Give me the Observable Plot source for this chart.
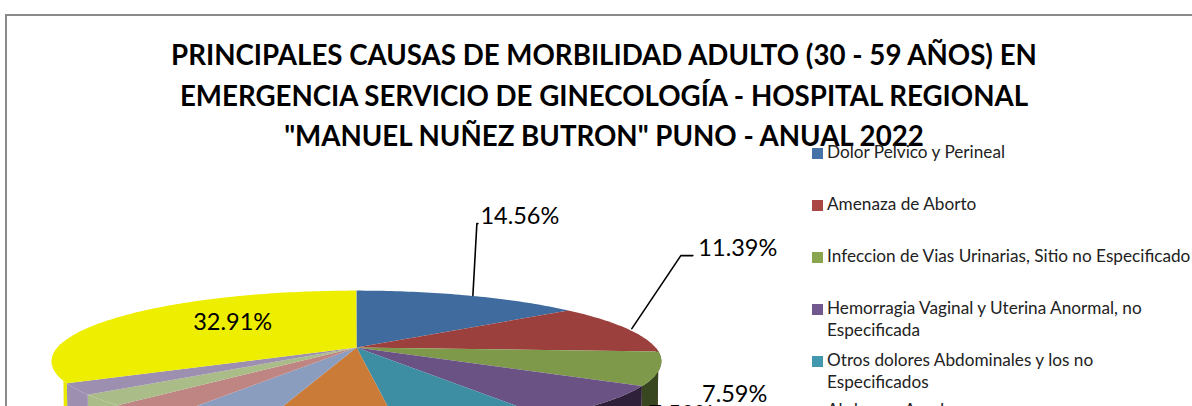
<!DOCTYPE html>
<html>
<head>
<meta charset="utf-8">
<script src="https://cdn.jsdelivr.net/npm/d3@7"></script>
<script src="https://cdn.jsdelivr.net/npm/@observablehq/plot@0.6"></script>
<style>
html,body{margin:0;padding:0;width:1192px;height:406px;overflow:hidden;background:#fff}
#wrap{position:relative;width:1192px;height:406px;overflow:hidden;font-family:Lato,sans-serif;color:#000}
#frame{position:absolute;left:5px;top:14px;width:1300px;height:600px;border:2px solid #8a8a8a;box-sizing:border-box;z-index:3;pointer-events:none}
#chart{position:absolute;left:0;top:0;z-index:1}
#chart svg{overflow:hidden}
#title{position:absolute;left:104px;width:1000px;top:35px;text-align:center;font-weight:700;font-size:27.68px;line-height:40.5px;z-index:2;white-space:nowrap}
.lg{position:absolute;left:812px;z-index:2}
.lg i{position:absolute;left:0;width:11px;height:11px}
.lg span{position:absolute;left:15px;font-size:17.2px;line-height:22px;color:#222;white-space:nowrap}
</style>
</head>
<body>
<div id="wrap">
<div id="chart"></div>
<div id="frame"></div>
<div id="title">PRINCIPALES CAUSAS DE MORBILIDAD ADULTO (30 - 59 AÑOS) EN<br>EMERGENCIA SERVICIO DE GINECOLOGÍA - HOSPITAL REGIONAL<br>"MANUEL NUÑEZ BUTRON" PUNO - ANUAL 2022</div>
</div>
<script>
// ---- data ----
const causes = ["Dolor Pelvico y Perineal","Amenaza de Aborto","Infeccion de Vias Urinarias, Sitio no Especificado","Hemorragia Vaginal y Uterina Anormal, no Especificada","Otros dolores Abdominales y los no Especificados","Abdomen Agudo","Causa 7","Causa 8","Causa 9","Causa 10","Otras Causas"];
const shares = [14.56,11.39,7.59,7.59,6.96,6.33,4.43,3.16,2.53,2.53,32.91];
const topColors = ["#3f6b9e","#9c403e","#7f994a","#6a5285","#3d8da3","#cb7b38","#8a9dbf","#bf8583","#aabc88","#9c8fb0","#eeee00"];
const wallColors = ["#2a4668","#682a29","#38471f","#2e2038","#1f4a55","#7a4a1f","#8a9dbf","#bf8583","#aabc88","#9c8fb0","#e9e900"];
const legendColors = ["#4572a7","#aa4643","#89a54e","#71588f","#4198af","#db843d"];
const legendLines = [["Dolor Pelvico y Perineal"],["Amenaza de Aborto"],["Infeccion de Vias Urinarias, Sitio no Especificado"],["Hemorragia Vaginal y Uterina Anormal, no","Especificada"],["Otros dolores Abdominales y los no","Especificados"],["Abdomen Agudo"]];

// ---- layout ----
const legendTops = [147,199,251,303,355,405];
const lineGap = 22;
const perspective = 0.195, wallDepth = 1.5, wallShrink = 0.995;
const labelLayout = [
  {i:0, dx:51, dy:-79, start:4, leader:[[8,-72],[9,-72]]},
  {i:1, dx:111, dy:-80, start:5, leader:[[54,-73],[66,-73]]},
  {i:2, dx:75, dy:26, leader:null},
  {i:3, dx:77, dy:11.5, leader:null},
  {i:10, dx:110, dy:7, leader:null}
];

// ---- geometry computed from the shares ----
function rim(deg){
  const t = deg*Math.PI/180, X = Math.sin(t), Y = Math.cos(t), d = 1+perspective*Y;
  return [X/d, Y/d];
}
const R = 299, RY = 68;
let cum = 0;
const slices = shares.map((s,i)=>{const a0=cum*3.6; cum+=s; return {i,name:causes[i],a0,a1:cum*3.6};});
const tops = [], walls = [];
for (const s of slices){
  const arc = [];
  for (let a=s.a0; a<s.a1; a+=1) arc.push(a);
  arc.push(s.a1);
  tops.push({k:s.name,x:0,y:0});
  for (const a of arc){const [x,y]=rim(a); tops.push({k:s.name,x,y});}
  const vis = arc.filter(a=>a>=90 && a<=275);
  if (vis.length>1){
    const key = s.name+" (lado)";
    for (const a of vis){const [x,y]=rim(a); walls.push({k:key,x,y});}
    for (const a of vis.slice().reverse()){const [x,y]=rim(a); walls.push({k:key,x:x*wallShrink,y:y-wallDepth});}
  }
}
const labels = [], leaders = [];
labelLayout.forEach(l=>{
  const s = slices[l.i], [x,y] = rim((s.a0+s.a1)/2);
  labels.push({x:x+l.dx/R,y:y-l.dy/RY,text:shares[l.i].toFixed(2)+"%"});
  if (l.leader){
    leaders.push({k:l.i,x:x+l.start/R,y});
    l.leader.forEach(p=>leaders.push({k:l.i,x:x+p[0]/R,y:y-p[1]/RY}));
  }
});

const plot = Plot.plot({
  width:1192,height:406,margin:0,
  x:{domain:[-1,1],range:[57,655],axis:null},
  y:{domain:[1,-1],range:[279,415],axis:null},
  color:{type:"ordinal",domain:[...causes,...causes.map(c=>c+" (lado)")],range:[...topColors,...wallColors]},
  style:{background:"transparent"},
  marks:[
    Plot.line(walls,{x:"x",y:"y",z:"k",fill:"k",stroke:null,curve:"linear-closed"}),
    Plot.line(tops,{x:"x",y:"y",z:"k",fill:"k",stroke:null,curve:"linear-closed"}),
    Plot.line(leaders,{x:"x",y:"y",z:"k",stroke:"#000",strokeWidth:1.6,curve:"linear"}),
    Plot.text(labels,{x:"x",y:"y",text:"text",fontSize:23.5,fontFamily:"Lato, sans-serif",fill:"#000",textAnchor:"middle"})
  ]
});
document.getElementById("chart").appendChild(plot);

const wrap = document.getElementById("wrap");
legendLines.forEach((lines,i)=>{
  const g = document.createElement("div");
  g.className="lg"; g.style.top=legendTops[i]+"px";
  const sw = document.createElement("i"); sw.style.background=legendColors[i]; sw.style.top="0.5px"; g.appendChild(sw);
  lines.forEach((t,j)=>{const sp=document.createElement("span"); sp.textContent=t; sp.style.top=(j*lineGap-6)+"px"; g.appendChild(sp);});
  wrap.appendChild(g);
});
</script>
</body>
</html>
